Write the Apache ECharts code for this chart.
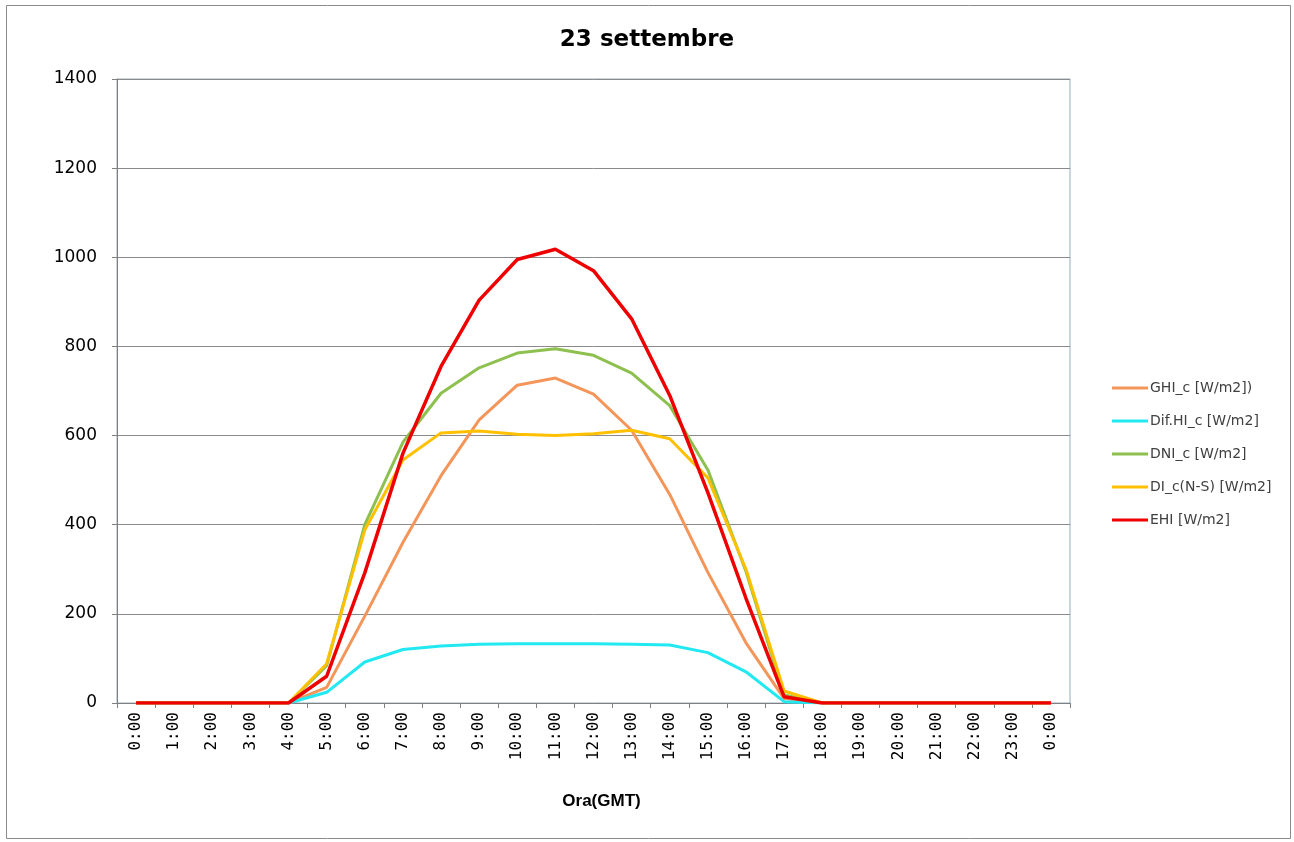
<!DOCTYPE html>
<html>
<head>
<meta charset="utf-8">
<script src="https://cdn.jsdelivr.net/npm/echarts@6/dist/echarts.min.js"></script>
<style>html,body{margin:0;padding:0;background:#fff;}#c{width:1294px;height:842px;}</style>
</head>
<body>
<div id="c"></div>
<script>
const hours = ['0:00','1:00','2:00','3:00','4:00','5:00','6:00','7:00','8:00','9:00','10:00','11:00','12:00','13:00','14:00','15:00','16:00','17:00','18:00','19:00','20:00','21:00','22:00','23:00','0:00'];
const yTicks = [0,200,400,600,800,1000,1200,1400];
const ghi = [0,0,0,0,0,35,195,360,510,635,713,729,693,612,468,293,135,10,0,0,0,0,0,0,0];
const difHi = [0,0,0,0,0,24,92,120,128,132,133,133,133,132,130,113,70,3,0,0,0,0,0,0,0];
const dni = [0,0,0,0,0,84,400,585,695,752,785,795,780,740,667,523,295,18,0,0,0,0,0,0,0];
const diNS = [0,0,0,0,0,88,388,545,606,610,603,600,604,612,593,505,300,27,0,0,0,0,0,0,0];
const ehi = [0,0,0,0,0,60,292,560,755,904,995,1018,970,862,690,472,235,14,0,0,0,0,0,0,0];
const names = ['GHI_c [W/m2])','Dif.HI_c [W/m2]','DNI_c [W/m2]','DI_c(N-S) [W/m2]','EHI [W/m2]'];
const colors = ['#F4955A','#22E8F2','#8EC050','#FFC000','#EE0000'];
const seriesData = [ghi, difHi, dni, diNS, ehi];

const chart = echarts.init(document.getElementById('c'), null, {renderer:'canvas'});
chart.setOption({
  animation:false,
  backgroundColor:'#fff',
  title:{text:'23 settembre', left:'center', top:24,
    textStyle:{fontFamily:'DejaVu Sans', fontWeight:'bold', fontSize:23, color:'#000'}},
  graphic:[{type:'rect', shape:{x:6.5,y:5.5,width:1284,height:833}, style:{fill:'none', stroke:'#8a8a8a', lineWidth:1}, silent:true}],
  legend:{orient:'vertical', left:1107, top:376, itemWidth:36, itemHeight:3, itemGap:19, icon:'rect',
    data:names, textStyle:{fontFamily:'DejaVu Sans', fontSize:14, color:'#404040', padding:[0,0,0,-3]}},
  grid:{left:117, right:224, top:79, bottom:139, show:true, borderColor:'#93AEC4', borderWidth:1, backgroundColor:'#fff'},
  xAxis:{type:'category', data:hours, boundaryGap:true,
    name:'Ora(GMT)', nameLocation:'middle', nameGap:90,
    nameTextStyle:{fontFamily:'Liberation Sans', fontWeight:'bold', fontSize:17, color:'#000', padding:[0,0,0,16]},
    axisLine:{lineStyle:{color:'#808080', width:1}},
    axisTick:{show:true, length:5, lineStyle:{color:'#808080'}},
    axisLabel:{rotate:90, margin:9, interval:0, fontFamily:'DejaVu Sans Mono', fontSize:16, color:'#000'}},
  yAxis:{type:'value', min:yTicks[0], max:yTicks[yTicks.length-1], interval:200,
    axisLine:{show:true, lineStyle:{color:'#808080', width:1}},
    axisTick:{show:true, length:5, lineStyle:{color:'#808080'}},
    axisLabel:{margin:20, fontFamily:'DejaVu Sans', fontSize:17, color:'#000', formatter:(v)=>String(v)},
    splitLine:{lineStyle:{color:'#8a8a8a', width:1}}},
  series: seriesData.map((d,i)=>({
    name:names[i], type:'line', data:d, symbol:'none',
    itemStyle:{color:colors[i]},
    lineStyle:{color:colors[i], width: i===4 ? 3.5 : 3}
  }))
});
</script>
</body>
</html>
